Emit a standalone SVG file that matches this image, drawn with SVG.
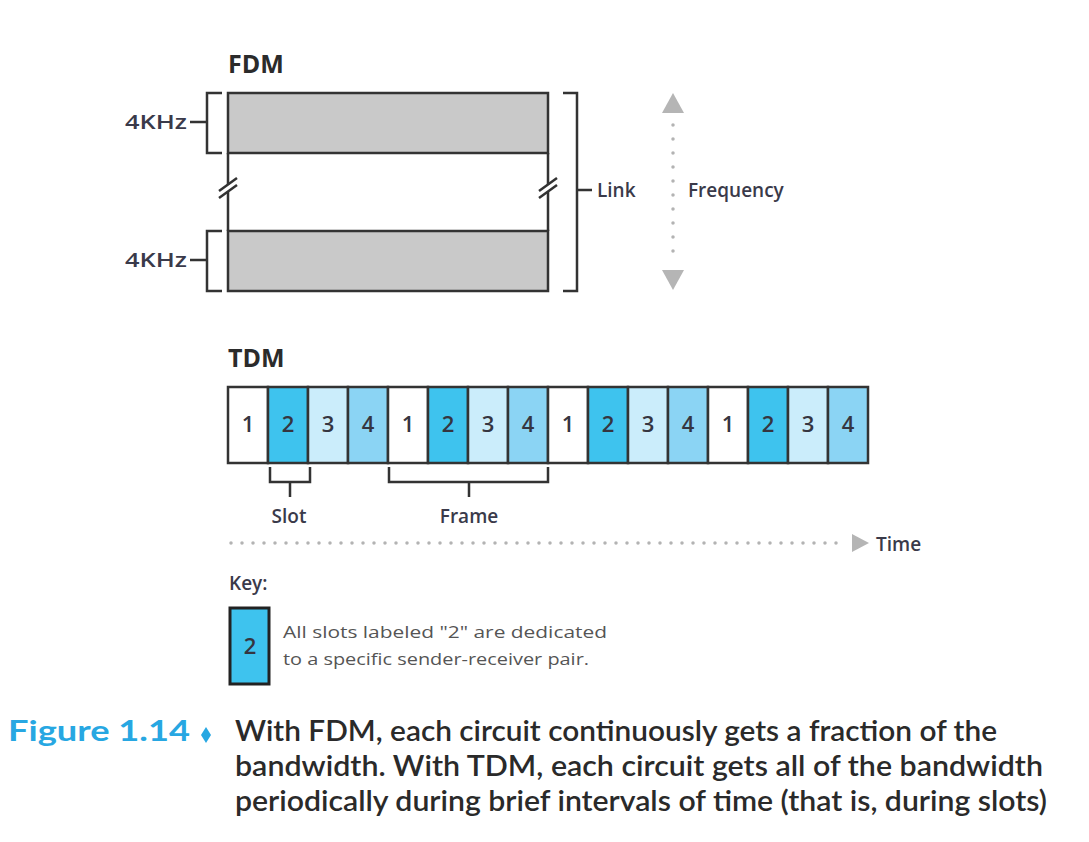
<svg xmlns="http://www.w3.org/2000/svg" width="1089" height="842" viewBox="0 0 1089 842">
<style>
.title{font-family:"Open Sans","Liberation Sans",sans-serif;font-weight:700;font-size:25px;fill:#2b2b2b}
.lbl{font-family:"Open Sans","Liberation Sans",sans-serif;font-weight:600;font-size:19px;fill:#3a3a4a}
.num{font-family:"Open Sans","Liberation Sans",sans-serif;font-weight:600;font-size:22px;fill:#353540;text-anchor:middle}
.key{font-family:"Open Sans","Liberation Sans",sans-serif;font-size:16px;fill:#555}
.cap{font-family:"Lato","Liberation Sans",sans-serif;font-weight:600;font-size:29px;fill:#2a2a2a}
.fig{font-family:"Lato","Liberation Sans",sans-serif;font-weight:700;font-size:29px;fill:#27a7e2}
.ln{stroke:#333;stroke-width:2.5;fill:none}
.band{stroke:#333;stroke-width:2.5;fill:#c9c9c9}
.dots{stroke:#b3b3b3;stroke-width:3.5;stroke-linecap:round;stroke-dasharray:0 11;fill:none}
.c1{fill:#ffffff}.c2{fill:#3ec3ee}.c3{fill:#cbedfb}.c4{fill:#8bd4f4}
.cell{stroke:#333;stroke-width:2.5}
</style>
<rect width="1089" height="842" fill="#ffffff"/>

<g id="fdm">
  <text class="title" x="228" y="73">FDM</text>
  <rect class="band" x="228" y="93" width="320" height="60"/>
  <rect class="band" x="228" y="231" width="320" height="60"/>
  <path class="ln" d="M228 153V185M228 192V231M548 153V185M548 192V231"/>
  <path class="ln" d="M219 191L237 178M219 198L237 185M539 191L557 178M539 198L557 185" stroke-width="2"/>
</g>

<g id="bw-top">
  <path class="ln" d="M222 93H207V153H222M207 122H190"/>
  <text class="lbl" x="125" y="129" textLength="62" lengthAdjust="spacingAndGlyphs">4KHz</text>
</g>
<g id="bw-bottom">
  <path class="ln" d="M222 231H207V291H222M207 260H190"/>
  <text class="lbl" x="125" y="267" textLength="62" lengthAdjust="spacingAndGlyphs">4KHz</text>
</g>
<g id="link">
  <path class="ln" d="M563 93H577V291H563M577 190H592"/>
  <text class="lbl" x="597" y="197" font-size="20">Link</text>
</g>
<g id="frequency">
  <path class="dots" d="M673 125V265" style="stroke-dasharray:0 14"/>
  <polygon points="673,93 684,113 662,113" fill="#b5b5b5"/>
  <polygon points="673,290 684,270 662,270" fill="#b5b5b5"/>
  <text class="lbl" x="688" y="197" font-size="21">Frequency</text>
</g>

<g id="tdm">
  <text class="title" x="228" y="367">TDM</text>
  <g id="cells">
    <rect class="cell c1" x="228" y="387" width="40" height="76"/>
    <rect class="cell c2" x="268" y="387" width="40" height="76"/>
    <rect class="cell c3" x="308" y="387" width="40" height="76"/>
    <rect class="cell c4" x="348" y="387" width="40" height="76"/>
    <rect class="cell c1" x="388" y="387" width="40" height="76"/>
    <rect class="cell c2" x="428" y="387" width="40" height="76"/>
    <rect class="cell c3" x="468" y="387" width="40" height="76"/>
    <rect class="cell c4" x="508" y="387" width="40" height="76"/>
    <rect class="cell c1" x="548" y="387" width="40" height="76"/>
    <rect class="cell c2" x="588" y="387" width="40" height="76"/>
    <rect class="cell c3" x="628" y="387" width="40" height="76"/>
    <rect class="cell c4" x="668" y="387" width="40" height="76"/>
    <rect class="cell c1" x="708" y="387" width="40" height="76"/>
    <rect class="cell c2" x="748" y="387" width="40" height="76"/>
    <rect class="cell c3" x="788" y="387" width="40" height="76"/>
    <rect class="cell c4" x="828" y="387" width="40" height="76"/>
  </g>
  <g id="nums">
    <text class="num" x="248" y="432">1</text><text class="num" x="288" y="432">2</text><text class="num" x="328" y="432">3</text><text class="num" x="368" y="432">4</text>
    <text class="num" x="408" y="432">1</text><text class="num" x="448" y="432">2</text><text class="num" x="488" y="432">3</text><text class="num" x="528" y="432">4</text>
    <text class="num" x="568" y="432">1</text><text class="num" x="608" y="432">2</text><text class="num" x="648" y="432">3</text><text class="num" x="688" y="432">4</text>
    <text class="num" x="728" y="432">1</text><text class="num" x="768" y="432">2</text><text class="num" x="808" y="432">3</text><text class="num" x="848" y="432">4</text>
  </g>
</g>

<g id="slot">
  <path class="ln" d="M270 467V482H310V467M290 482V497"/>
  <text class="lbl" x="289" y="523" text-anchor="middle" font-size="21">Slot</text>
</g>
<g id="frame">
  <path class="ln" d="M389 467V482H548V467M469 482V497"/>
  <text class="lbl" x="469" y="523" text-anchor="middle" font-size="21">Frame</text>
</g>
<g id="time">
  <path class="dots" d="M231 543H846"/>
  <polygon points="869,543 852,534 852,552" fill="#b5b5b5"/>
  <text class="lbl" x="876" y="551" font-size="21">Time</text>
</g>

<g id="key">
  <text class="lbl" x="229" y="590" font-size="19">Key:</text>
  <rect x="230" y="608" width="39" height="76" fill="#3ec3ee" stroke="#222" stroke-width="3"/>
  <text class="num" x="250" y="654" font-weight="700">2</text>
  <text class="key" x="283" y="638" textLength="324" lengthAdjust="spacingAndGlyphs">All slots labeled "2" are dedicated</text>
  <text class="key" x="283" y="665" textLength="306" lengthAdjust="spacingAndGlyphs">to a specific sender-receiver pair.</text>
</g>

<g id="caption">
  <text class="fig" x="8" y="741" textLength="182" lengthAdjust="spacingAndGlyphs">Figure 1.14</text>
  <polygon points="206,727 211,735 206,743 201,735" fill="#27a7e2"/>
  <text class="cap" x="235" y="741" textLength="762" lengthAdjust="spacingAndGlyphs">With FDM, each circuit continuously gets a fraction of the</text>
  <text class="cap" x="235" y="776" textLength="808" lengthAdjust="spacingAndGlyphs">bandwidth. With TDM, each circuit gets all of the bandwidth</text>
  <text class="cap" x="235" y="811" textLength="812" lengthAdjust="spacingAndGlyphs">periodically during brief intervals of time (that is, during slots)</text>
</g>
</svg>
